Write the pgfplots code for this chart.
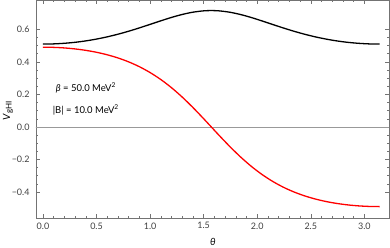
\documentclass[border=0pt]{standalone}
\usepackage{fontspec}
\setmainfont{Lato}
\usepackage{pgfplots}
\pgfplotsset{compat=1.18}
\pgfplotstableread{
t b r
0.0000 0.5090 0.4900
0.1000 0.5102 0.4888
0.2000 0.5139 0.4853
0.3000 0.5200 0.4792
0.4000 0.5286 0.4704
0.5000 0.5398 0.4586
0.6000 0.5535 0.4432
0.7000 0.5697 0.4238
0.8000 0.5881 0.3996
0.9000 0.6085 0.3700
1.0000 0.6301 0.3340
1.1000 0.6520 0.2911
1.2000 0.6729 0.2408
1.3000 0.6911 0.1831
1.4000 0.7051 0.1190
1.5000 0.7133 0.0502
1.5708 0.7150 0.0000
1.6416 0.7133 -0.0502
1.7416 0.7051 -0.1190
1.8416 0.6911 -0.1831
1.9416 0.6729 -0.2408
2.0416 0.6520 -0.2911
2.1416 0.6301 -0.3340
2.2416 0.6085 -0.3700
2.3416 0.5881 -0.3996
2.4416 0.5697 -0.4238
2.5416 0.5535 -0.4432
2.6416 0.5398 -0.4586
2.7416 0.5286 -0.4704
2.8416 0.5200 -0.4792
2.9416 0.5139 -0.4853
3.0416 0.5102 -0.4888
3.1416 0.5090 -0.4900
}\datatable
\begin{document}
\begin{tikzpicture}
\begin{axis}[
  name=ax,
  scale only axis, width=353bp, height=218bp,
  xmin=-0.065, xmax=3.23, ymin=-0.56, ymax=0.78,
  axis line style={black!55, line width=0.6pt},
  tick style={black!55, line width=0.5pt},
  major tick length=4bp, minor tick length=2.2bp,
  tick align=inside,
  xtick={0,0.5,1.0,1.5,2.0,2.5,3.0},
  ytick={-0.4,-0.2,0,0.2,0.4,0.6},
  xticklabels={0.0,0.5,1.0,1.5,2.0,2.5,3.0},
  yticklabels={−0.4,−0.2,0.0,0.2,0.4,0.6},
  minor x tick num=4, minor y tick num=3,
  ticklabel style={font=\fontsize{9}{10}\selectfont, text=black!75},
  xticklabel style={yshift=-1bp},
  yticklabel style={xshift=-3bp},
  xlabel={\textit{θ}}, ylabel={\textit{V}{\fontsize{8}{9}\selectfont\raisebox{-0.35ex}{gHI}}},
  label style={font=\fontsize{10}{11}\selectfont, text=black!75},
  every axis x label/.style={at={(axis description cs:0.501,-0.11)}, anchor=center},
  every axis y label/.style={at={(axis description cs:-0.079,0.49)}, anchor=center, rotate=90},
  clip=true,
]
\addplot[black!40, line width=0.6pt] coordinates {(-0.1,0) (3.3,0)};
\addplot[black, line width=1.3pt, smooth] table[x=t, y=b] {\datatable};
\addplot[red, line width=1.3pt, smooth] table[x=t, y=r] {\datatable};
\node[font=\fontsize{9.5}{11}\selectfont] at (axis cs:0.40,0.24) {\textit{β} = 50.0 MeV\textsuperscript{2}};
\node[font=\fontsize{9.5}{11}\selectfont] at (axis cs:0.40,0.105) {|B| = 10.0 MeV\textsuperscript{2}};
\end{axis}
\pgfresetboundingbox
\path ([xshift=-36bp, yshift=-30bp]ax.south west) rectangle ([xshift=1bp]ax.north east);
\end{tikzpicture}
\end{document}
